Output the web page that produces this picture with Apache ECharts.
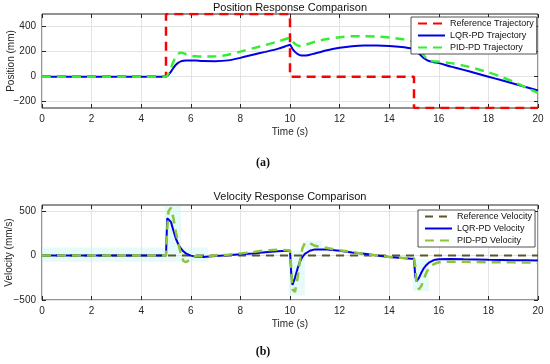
<!DOCTYPE html>
<html>
<head>
<meta charset="utf-8">
<script src="https://cdn.jsdelivr.net/npm/echarts@6/dist/echarts.min.js"></script>
<style>
html,body{margin:0;padding:0;background:#fff;}
#c{width:550px;height:364px;}
</style>
</head>
<body>
<div id="c"></div>
<script>
// ---- Data ----
const time = [0, 4, 5, 5.05, 5.1, 5.2, 5.3, 5.4, 5.5, 5.6, 5.7, 5.8, 6, 6.2, 6.5, 7, 7.5, 8, 8.5, 9, 9.5, 9.9,
  10, 10.05, 10.1, 10.2, 10.3, 10.4, 10.5, 10.6, 10.8, 11, 11.5, 12, 12.5, 13, 13.5, 14, 14.5, 14.9,
  15, 15.05, 15.1, 15.2, 15.3, 15.4, 15.5, 15.6, 15.8, 16, 16.5, 17, 17.5, 18, 18.5, 19, 19.5, 20];

const refPosTime = [0, 5, 5, 10, 10, 15, 15, 20];
const refPos = [0, 0, 500, 500, 0, 0, -250, -250];

const lqrPos = [0, 0, 0, 5, 15, 40, 70, 95, 112, 122, 127, 129, 129, 128, 125, 124, 130, 150, 175, 198, 222, 248,
  255, 240, 222, 198, 182, 172, 168, 168, 175, 185, 210, 230, 243, 248, 248, 245, 237, 225,
  222, 215, 205, 185, 165, 148, 135, 125, 115, 108, 80, 54, 27, 0, -27, -55, -82, -110];

const pidPos = [0, 0, 0, 8, 25, 70, 120, 160, 183, 190, 188, 180, 168, 162, 160, 162, 175, 200, 226, 252, 280, 305,
  310, 297, 282, 263, 250, 245, 247, 252, 265, 278, 300, 315, 322, 323, 320, 312, 300, 285,
  280, 270, 258, 232, 200, 170, 145, 130, 122, 120, 108, 88, 63, 35, 0, -40, -85, -130];

const refVelTime = [0, 20];
const refVel = [0, 0];

const lqrVel = [0, 0, 0, 420, 440, 380, 280, 190, 125, 80, 48, 25, 0, -12, -15, -5, 5, 15, 25, 38, 50, 55,
  55, -200, -330, -250, -150, -70, -15, 20, 55, 70, 68, 55, 35, 20, 0, -15, -28, -35,
  -35, -230, -290, -250, -190, -140, -105, -80, -50, -40, -38, -42, -45, -48, -50, -52, -53, -55];

const pidVel = [0, 0, 0, 300, 500, 540, 420, 260, 130, 20, -60, -75, -40, -5, -10, 0, 10, 25, 40, 60, 65, 60,
  55, -150, -380, -410, -260, -60, 80, 145, 140, 110, 85, 60, 40, 20, 0, -15, -25, -30,
  -30, -120, -300, -380, -340, -260, -190, -140, -95, -75, -68, -70, -72, -74, -75, -76, -78, -80];

const posTicks = [-200, 0, 200, 400];
const velTicks = [-500, 0, 500];
const xTicks = [0, 2, 4, 6, 8, 10, 12, 14, 16, 18, 20];

// ---- Chart ----
const pair = (ts, vs) => ts.map((t, i) => [t, vs[i]]);
const FONT = 'Liberation Sans, Arial, Helvetica, sans-serif';
const fmtNum = v => (v < 0 ? '\u2212' + Math.abs(v) : String(v));
const TICK = { show: true, inside: true, length: 4, lineStyle: { color: '#262626' } };
const GRIDLINE = { show: true, lineStyle: { color: '#e3e3e3', width: 1 } };

function xAxisBottom(gi) {
  return {
    type: 'value', gridIndex: gi, min: 0, max: 20, position: 'bottom',
    name: 'Time (s)', nameLocation: 'middle', nameGap: 19, nameMoveOverlap: false,
    nameTextStyle: { fontSize: 10, color: '#262626', fontFamily: FONT },
    axisLine: { show: false, onZero: false },
    axisTick: Object.assign({ customValues: xTicks }, TICK),
    axisLabel: { customValues: xTicks, fontSize: 10, color: '#262626', fontFamily: FONT, margin: 6, formatter: fmtNum },
    splitLine: GRIDLINE
  };
}
function xAxisTop(gi) {
  return {
    type: 'value', gridIndex: gi, min: 0, max: 20, position: 'top',
    axisLine: { show: false, onZero: false }, axisLabel: { show: false }, splitLine: { show: false },
    axisTick: Object.assign({ customValues: xTicks }, TICK)
  };
}
function yAxisLeft(gi, min, max, ticks, name, gap) {
  return {
    type: 'value', gridIndex: gi, min: min, max: max, position: 'left',
    name: name, nameLocation: 'middle', nameGap: gap, nameMoveOverlap: false,
    nameTextStyle: { fontSize: 10, color: '#262626', fontFamily: FONT },
    axisLine: { show: false, onZero: false },
    axisTick: Object.assign({ customValues: ticks }, TICK),
    axisLabel: { customValues: ticks, fontSize: 10, color: '#262626', fontFamily: FONT, margin: 6, formatter: fmtNum },
    splitLine: GRIDLINE
  };
}
function yAxisRight(gi, min, max, ticks) {
  return {
    type: 'value', gridIndex: gi, min: min, max: max, position: 'right',
    axisLine: { show: false, onZero: false }, axisLabel: { show: false }, splitLine: { show: false },
    axisTick: Object.assign({ customValues: ticks }, TICK)
  };
}
function legendBox(names, left, top) {
  return {
    data: names, orient: 'vertical', left: left, top: top,
    itemWidth: 27, itemHeight: 9, itemGap: 3,
    padding: [2, 3, 2, 6], backgroundColor: '#fff', borderColor: '#262626', borderWidth: 0.8, borderRadius: 0,
    itemStyle: { opacity: 0 },
    textStyle: { fontSize: 9, color: '#111', fontFamily: FONT }
  };
}

const chart = echarts.init(document.getElementById('c'), null, { renderer: 'canvas' });
chart.setOption({
  animation: false,
  backgroundColor: '#fff',
  textStyle: { fontFamily: FONT },
  title: [
    { text: 'Position Response Comparison', left: 290, top: 2, padding: 0, textAlign: 'center',
      textStyle: { fontSize: 11, fontWeight: 'normal', color: '#111', fontFamily: FONT } },
    { text: 'Velocity Response Comparison', left: 290, top: 191, padding: 0, textAlign: 'center',
      textStyle: { fontSize: 11, fontWeight: 'normal', color: '#111', fontFamily: FONT } },
    { text: '(a)', left: 263, top: 157, padding: 0, textAlign: 'center',
      textStyle: { fontSize: 12, fontWeight: 'bold', color: '#111', fontFamily: 'Liberation Serif, serif' } },
    { text: '(b)', left: 263, top: 346, padding: 0, textAlign: 'center',
      textStyle: { fontSize: 12, fontWeight: 'bold', color: '#111', fontFamily: 'Liberation Serif, serif' } }
  ],
  grid: [
    { left: 42, right: 12, top: 14, height: 94, show: true, borderColor: '#262626', borderWidth: 1,
      backgroundColor: 'transparent', containLabel: false, outerBoundsMode: 'none' },
    { left: 42, right: 12, top: 205, height: 95, show: true, borderColor: '#262626', borderWidth: 1,
      backgroundColor: 'transparent', containLabel: false, outerBoundsMode: 'none' }
  ],
  xAxis: [xAxisBottom(0), xAxisBottom(1), xAxisTop(0), xAxisTop(1)],
  yAxis: [
    yAxisLeft(0, -250, 500, posTicks, 'Position (mm)', 26),
    yAxisLeft(1, -500, 570, velTicks, 'Velocity (mm/s)', 28),
    yAxisRight(0, -250, 500, posTicks),
    yAxisRight(1, -500, 570, velTicks)
  ],
  legend: [
    legendBox(['Reference Trajectory', 'LQR-PD Trajectory', 'PID-PD Trajectory'], 411, 17),
    legendBox(['Reference Velocity', 'LQR-PD Velocity', 'PID-PD Velocity'], 418, 210)
  ],
  series: [
    { name: 'Reference Trajectory', type: 'line', xAxisIndex: 0, yAxisIndex: 0, symbol: 'none',
      data: pair(refPosTime, refPos), color: '#ff0000',
      lineStyle: { color: '#ff0000', width: 2.5, type: [9, 6] } },
    { name: 'LQR-PD Trajectory', type: 'line', xAxisIndex: 0, yAxisIndex: 0, symbol: 'none', smooth: 0.3,
      data: pair(time, lqrPos), color: '#0000e6',
      lineStyle: { color: '#0000e6', width: 2 } },
    { name: 'PID-PD Trajectory', type: 'line', xAxisIndex: 0, yAxisIndex: 0, symbol: 'none', smooth: 0.3,
      data: pair(time, pidPos), color: '#33ee33',
      lineStyle: { color: '#33ee33', width: 2.5, type: [9, 6] } },

    { name: 'Reference Velocity', type: 'line', xAxisIndex: 1, yAxisIndex: 1, symbol: 'none',
      data: pair(refVelTime, refVel), color: '#5e5428',
      lineStyle: { color: '#5e5428', width: 2, type: [8, 6] },
      markArea: { silent: true, itemStyle: { color: 'rgba(200,245,245,0.45)' },
        data: [
          [{ coord: [0, -70] }, { coord: [6.7, 90] }],
          [{ coord: [4.95, 90] }, { coord: [5.6, 560] }],
          [{ coord: [9.95, -450] }, { coord: [10.6, 60] }],
          [{ coord: [10.6, 60] }, { coord: [11.3, 170] }],
          [{ coord: [14.95, -400] }, { coord: [15.6, -40] }]
        ] } },
    { name: 'LQR-PD Velocity', type: 'line', xAxisIndex: 1, yAxisIndex: 1, symbol: 'none',
      data: pair(time, lqrVel), color: '#0000e6',
      lineStyle: { color: '#0000e6', width: 2 } },
    { name: 'PID-PD Velocity', type: 'line', xAxisIndex: 1, yAxisIndex: 1, symbol: 'none',
      data: pair(time, pidVel), color: '#8cc43c',
      lineStyle: { color: '#8cc43c', width: 2.5, type: [9, 6] } }
  ]
});
</script>
</body>
</html>
